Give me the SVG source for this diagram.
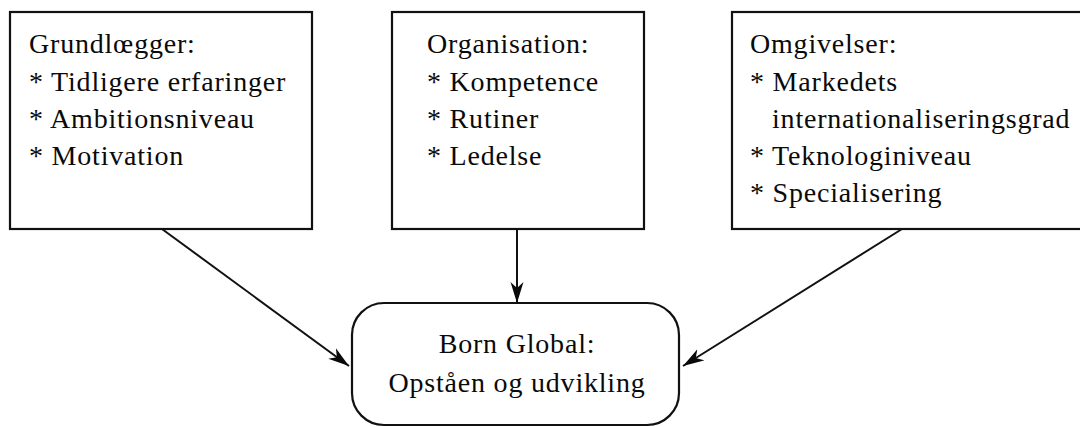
<svg xmlns="http://www.w3.org/2000/svg" width="1080" height="427" viewBox="0 0 1080 427">
<style>
.box{fill:#fff;stroke:#111;stroke-width:2.2}
.t{font-family:"Liberation Serif","Times New Roman",serif;font-size:28px;letter-spacing:0.8px;fill:#0a0a0a}
.c{text-anchor:middle}
.ln{stroke:#111;stroke-width:2;fill:none}
</style>
<defs>
<marker id="ah" markerUnits="userSpaceOnUse" markerWidth="24" markerHeight="14" refX="21" refY="6.5" orient="auto" viewBox="0 0 24 13">
<path d="M0,0 L21,6.5 L0,13 L6,6.5 z" fill="#0a0a0a"/>
</marker>
</defs>
<rect width="1080" height="427" fill="#fff"/>
<g id="grundlaegger">
<rect class="box" x="10" y="12" width="302" height="217"/>
<text class="t" x="29" y="53">Grundlœgger:</text>
<text class="t" x="29" y="91">* Tidligere erfaringer</text>
<text class="t" x="29" y="128">* Ambitionsniveau</text>
<text class="t" x="29" y="165">* Motivation</text>
</g>
<g id="organisation">
<rect class="box" x="392" y="12" width="252" height="217"/>
<text class="t" x="427" y="53">Organisation:</text>
<text class="t" x="427" y="91">* Kompetence</text>
<text class="t" x="427" y="128">* Rutiner</text>
<text class="t" x="427" y="165">* Ledelse</text>
</g>
<g id="omgivelser">
<rect class="box" x="732" y="12" width="360" height="217"/>
<text class="t" x="750" y="53">Omgivelser:</text>
<text class="t" x="750" y="91">* Markedets</text>
<text class="t" x="772" y="128">internationaliseringsgrad</text>
<text class="t" x="750" y="165">* Teknologiniveau</text>
<text class="t" x="750" y="202">* Specialisering</text>
</g>
<g id="bornglobal">
<rect class="box" x="352" y="303" width="327" height="122" rx="32" ry="32"/>
<text class="t c" x="517" y="353">Born Global:</text>
<text class="t c" x="517" y="392">Opståen og udvikling</text>
</g>
<g id="connectors">
<line class="ln" x1="162" y1="229" x2="349" y2="366" marker-end="url(#ah)"/>
<line class="ln" x1="517" y1="229" x2="517" y2="303" marker-end="url(#ah)"/>
<line class="ln" x1="902" y1="229" x2="683" y2="366" marker-end="url(#ah)"/>
</g>
</svg>
